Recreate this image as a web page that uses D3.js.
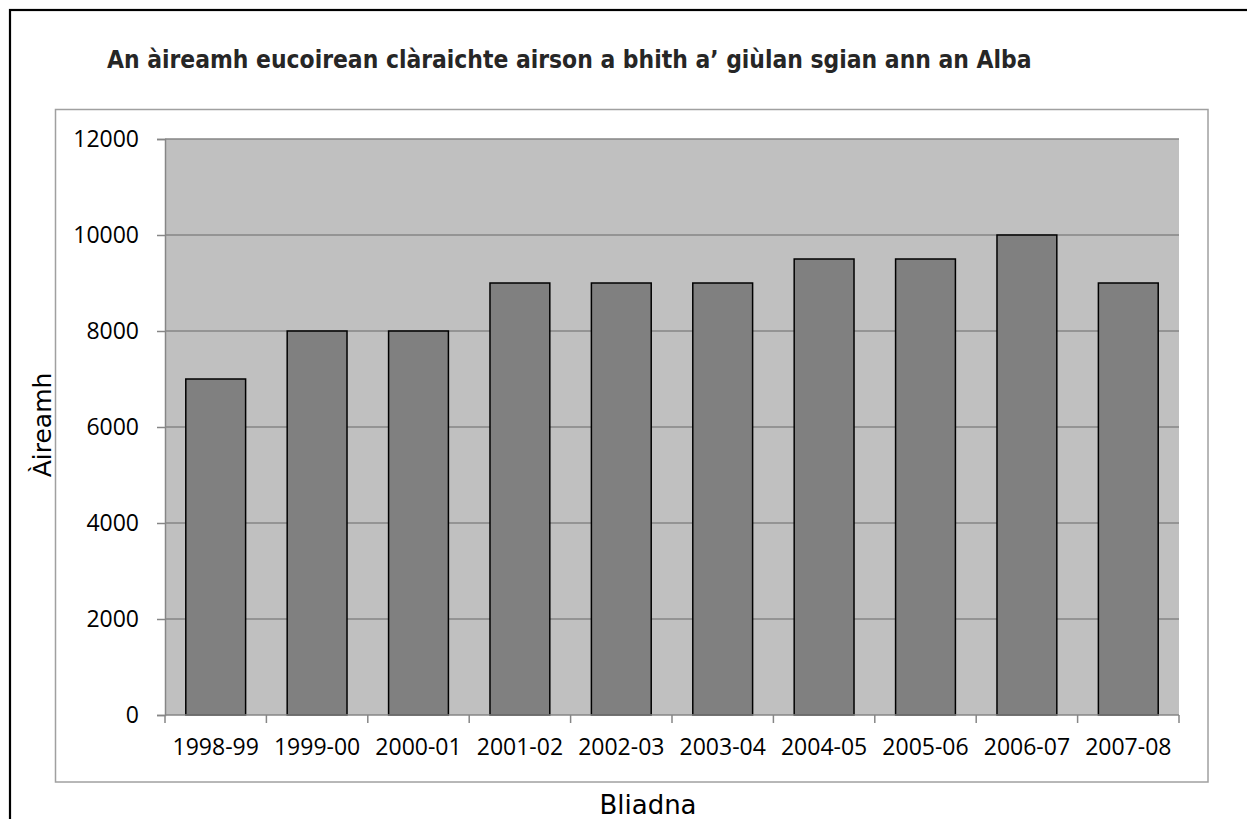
<!DOCTYPE html>
<html>
<head>
<meta charset="utf-8">
<script src="https://cdn.jsdelivr.net/npm/d3@7"></script>
<style>
html,body{margin:0;padding:0;background:#fff;}
svg{display:block;}
</style>
</head>
<body>
<svg id="chart" width="1247" height="819"></svg>
<script>
const categories = ["1998-99","1999-00","2000-01","2001-02","2002-03","2003-04","2004-05","2005-06","2006-07","2007-08"];
const values = [7000, 8000, 8000, 9000, 9000, 9000, 9500, 9500, 10000, 9000];
const yTicks = [0, 2000, 4000, 6000, 8000, 10000, 12000];
const title = "An àireamh eucoirean clàraichte airson a bhith a’ giùlan sgian ann an Alba";
const xTitle = "Bliadna";
const yTitle = "Àireamh";

const svg = d3.select("#chart");
const plot = {left: 165, right: 1179, top: 139, bottom: 715};

// outer frame
svg.append("rect").attr("x", 10).attr("y", 10).attr("width", 1300).attr("height", 900)
  .attr("fill", "none").attr("stroke", "#000").attr("stroke-width", 2.2);

// inner chart area border
svg.append("rect").attr("x", 55.5).attr("y", 109.5).attr("width", 1152.5).attr("height", 672.5)
  .attr("fill", "#fff").attr("stroke", "#a0a0a0").attr("stroke-width", 1.5);

const x = d3.scaleBand().domain(categories).range([plot.left, plot.right]).paddingInner(0.41).paddingOuter(0.205);
const xb = d3.scaleBand().domain(categories).range([plot.left, plot.right]);
const y = d3.scaleLinear().domain([0, 12000]).range([plot.bottom, plot.top]);

// plot background
svg.append("rect").attr("x", plot.left).attr("y", plot.top)
  .attr("width", plot.right - plot.left).attr("height", plot.bottom - plot.top)
  .attr("fill", "#c0c0c0");

// gridlines
svg.append("g").selectAll("line").data(yTicks.filter(d => d > 0)).join("line")
  .attr("x1", plot.left).attr("x2", plot.right)
  .attr("y1", d => y(d)).attr("y2", d => y(d))
  .attr("stroke", "#868686").attr("stroke-width", 1.5);

// bars
svg.append("g").selectAll("rect").data(values).join("rect")
  .attr("x", (d, i) => x(categories[i]))
  .attr("y", d => y(d))
  .attr("width", x.bandwidth())
  .attr("height", d => y(0) - y(d))
  .attr("fill", "#808080").attr("stroke", "#000").attr("stroke-width", 1.5);

// y axis
const yAxis = svg.append("g").attr("transform", `translate(${plot.left},0)`)
  .call(d3.axisLeft(y).tickValues(yTicks).tickSize(8).tickPadding(18).tickFormat(d3.format("d")));
yAxis.select(".domain").attr("stroke", "#868686").attr("stroke-width", 1.5);
yAxis.selectAll(".tick line").attr("stroke", "#868686").attr("stroke-width", 1.5);
yAxis.selectAll(".tick text").attr("font-family", "'Open Sans', sans-serif").attr("font-size", 23).attr("fill", "#000");

// x axis
const xAxis = svg.append("g").attr("transform", `translate(0,${plot.bottom})`)
  .call(d3.axisBottom(x).tickSize(0).tickPadding(24));
xAxis.select(".domain").remove();
xAxis.selectAll(".tick text").attr("font-family", "'Open Sans', sans-serif").attr("font-size", 23).attr("fill", "#000");
svg.append("line").attr("x1", plot.left).attr("x2", plot.right).attr("y1", plot.bottom).attr("y2", plot.bottom)
  .attr("stroke", "#868686").attr("stroke-width", 1.5);
const bounds = categories.map(c => xb(c)).concat([xb(categories[categories.length - 1]) + xb.bandwidth()]);
svg.append("g").selectAll("line").data(bounds).join("line")
  .attr("x1", d => d).attr("x2", d => d).attr("y1", plot.bottom).attr("y2", plot.bottom + 8)
  .attr("stroke", "#868686").attr("stroke-width", 1.5);

// title
const t = svg.append("text").attr("x", 107).attr("y", 68)
  .attr("font-family", "'DejaVu Sans Condensed', 'DejaVu Sans', sans-serif").attr("font-weight", "bold")
  .attr("font-size", 22).attr("fill", "#262626").text(title);
const tw = t.node().getComputedTextLength();
t.attr("font-size", Math.min(25, 22 * 925 / tw));
const tw2 = t.node().getComputedTextLength();
if (tw2 < 920) t.attr("textLength", 925).attr("lengthAdjust", "spacing");

// axis titles
svg.append("text").attr("x", 648).attr("y", 814).attr("text-anchor", "middle")
  .attr("font-family", "'DejaVu Sans', sans-serif").attr("font-size", 26).attr("fill", "#000").text(xTitle);
svg.append("text").attr("transform", "translate(51,425) rotate(-90)").attr("text-anchor", "middle")
  .attr("font-family", "'DejaVu Sans', sans-serif").attr("font-size", 25).attr("fill", "#000").text(yTitle);
</script>
</body>
</html>
